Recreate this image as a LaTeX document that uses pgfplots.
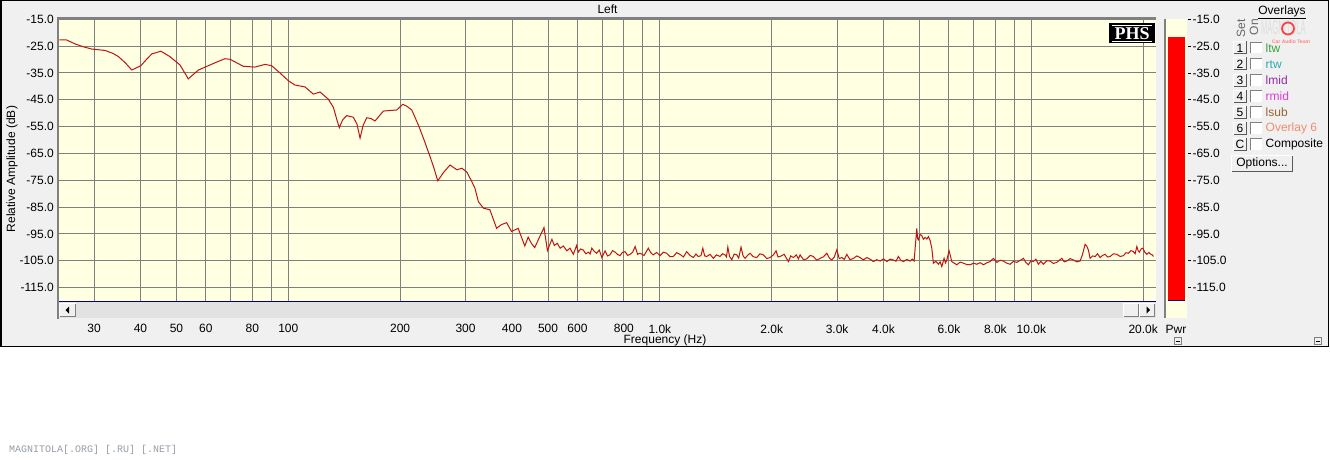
\documentclass[border=0pt]{standalone}
\usepackage{pgfplots}
\usepackage{pgfplotstable}
\pgfplotsset{compat=1.18}
\usepackage{fontspec}
\setmainfont{Liberation Sans}
\newfontfamily\monofont{Liberation Mono}
\newfontfamily\seriffont{Liberation Serif}
\definecolor{panel}{RGB}{240,240,240}
\definecolor{plotbg}{RGB}{255,255,225}
\definecolor{gridc}{RGB}{128,128,128}
\definecolor{trace}{RGB}{190,20,20}
\definecolor{navyline}{RGB}{0,0,128}
\definecolor{scrollc}{RGB}{226,226,226}
\definecolor{cltw}{RGB}{60,160,60}
\definecolor{crtw}{RGB}{40,170,170}
\definecolor{clmid}{RGB}{150,40,170}
\definecolor{crmid}{RGB}{220,60,220}
\definecolor{clsub}{RGB}{150,100,50}
\definecolor{cov}{RGB}{240,140,110}
\definecolor{wmark}{RGB}{150,158,168}

\pgfplotstableread{
f db
24.2 -22.7
25.3 -22.7
26.7 -24.2
28.0 -25.2
29.6 -26.1
32.1 -26.6
33.6 -27.6
34.9 -28.9
36.4 -31.2
37.9 -33.9
40.1 -32.3
41.5 -30.0
42.9 -27.9
45.4 -26.9
48.0 -28.9
51.1 -32.0
53.8 -37.2
57.3 -33.9
60.9 -32.3
64.0 -31.0
67.5 -29.7
69.7 -29.9
75.6 -32.5
81.3 -32.8
86.6 -31.8
90.2 -32.3
95.0 -35.0
100 -37.9
104.2 -39.5
110.9 -40.2
116.8 -42.9
121.7 -42.1
128.2 -44.8
132.2 -47.8
135.5 -53.0
137.2 -55.4
140.0 -52.5
143.6 -50.9
149.6 -51.5
153.0 -54.0
156.0 -59.3
159.0 -54.5
162.6 -51.7
167.0 -52.0
171.2 -52.9
180.2 -49.2
195.8 -48.8
203.2 -46.7
208.0 -47.3
214.9 -48.8
223.9 -54.4
232.0 -60.0
240.7 -66.2
246.0 -70.0
252.5 -75.2
262.0 -72.0
272.4 -69.3
284.3 -71.1
293.3 -70.5
302.5 -72.0
311.8 -75.5
318.0 -78.0
324.8 -83.0
335.1 -85.4
348.8 -86.0
363.6 -92.9
375.0 -91.5
387.0 -90.8
398.8 -94.1
415.5 -92.9
433.0 -99.5
442.1 -96.2
451.0 -98.5
460.5 -100.1
473.2 -96.5
487.7 -92.6
498.1 -101.2
512.3 -97.0
520.0 -99.3
529.5 -98.5
539.0 -100.3
550.0 -99.5
562 -101.3
573 -100.3
585 -102.6
597 -99.3
603 -101.8
612 -100.6
622 -101.0
632 -102.4
642 -101.8
649 -102.5
656 -100.3
666 -101.5
676 -102.2
687 -101.0
698 -103.8
705 -102.6
712 -101.3
723 -103.2
734 -102.8
746 -101.2
758 -101.8
769 -102.6
781 -103.1
793 -101.9
806 -101.6
819 -103.0
832 -102.6
845 -101.8
858 -99.7
871 -102.6
884 -102.2
907 -103.0
931 -100.3
945 -102.0
960 -102.8
980 -101.9
1001 -103.1
1022 -101.8
1044 -102.2
1065 -103.5
1087 -103.4
1110 -102.0
1133 -102.6
1157 -103.6
1181 -101.6
1205 -103.0
1231 -103.8
1250 -102.5
1270 -103.4
1290 -103.1
1305 -100.3
1320 -103.2
1337 -103.4
1365 -102.6
1393 -104.1
1420 -102.8
1452 -103.4
1475 -102.4
1498 -102.8
1511 -103.6
1524 -99.9
1540 -103.4
1562 -104.6
1585 -102.5
1611 -102.8
1630 -104.0
1654 -99.9
1675 -103.2
1696 -104.1
1722 -103.0
1749 -102.2
1785 -103.5
1823 -103.8
1860 -102.4
1899 -102.8
1940 -104.2
1980 -103.8
2018 -102.9
2055 -101.3
2080 -103.6
2107 -103.4
2160 -102.6
2218 -105.3
2250 -103.2
2288 -103.8
2330 -102.8
2360 -104.3
2385 -102.8
2435 -104.6
2486 -104.3
2540 -103.0
2590 -103.4
2645 -104.8
2700 -104.1
2757 -103.5
2814 -102.2
2860 -104.0
2902 -104.7
2948 -103.6
2994 -100.9
3040 -104.2
3088 -103.8
3136 -104.5
3185 -102.6
3250 -104.6
3319 -104.1
3390 -103.2
3459 -103.8
3530 -104.7
3606 -103.8
3680 -104.4
3756 -105.3
3835 -104.6
3915 -105.1
4000 -104.3
4082 -105.3
4165 -104.4
4252 -104.7
4320 -105.2
4385 -103.4
4455 -104.9
4524 -105.3
4620 -104.5
4715 -105.1
4780 -104.4
4834 -105.1
4873 -99.1
4915 -92.9
4940 -96.8
4964 -97.2
5015 -95.2
5070 -95.6
5120 -97.0
5174 -96.3
5230 -96.9
5281 -96.0
5340 -97.5
5394 -100.3
5448 -105.9
5530 -105.2
5619 -106.3
5680 -105.4
5738 -107.2
5821 -104.1
5870 -105.8
5920 -104.7
6005 -101.3
6106 -105.3
6200 -105.9
6299 -106.5
6430 -105.5
6561 -105.9
6700 -106.4
6839 -106.5
6980 -105.9
7129 -106.3
7280 -105.7
7428 -106.5
7580 -105.8
7742 -105.3
7902 -104.1
8071 -105.6
8240 -104.8
8408 -105.1
8580 -105.9
8763 -106.3
8950 -105.2
9134 -105.6
9320 -104.9
9517 -104.1
9660 -105.6
9815 -106.5
9970 -105.0
10125 -105.3
10280 -104.4
10443 -106.3
10600 -105.2
10772 -106.3
11000 -105.0
11227 -105.1
11460 -106.0
11705 -105.6
11890 -104.8
12072 -104.1
12260 -105.4
12452 -105.1
12710 -104.2
12974 -104.7
13240 -105.4
13523 -105.1
13717 -102.8
13947 -98.9
14100 -99.6
14236 -101.0
14388 -104.1
14610 -103.2
14842 -103.4
15070 -102.4
15308 -103.8
15550 -103.0
15792 -102.6
16040 -103.6
16287 -103.4
16630 -102.4
16982 -102.6
17330 -103.4
17689 -103.1
17970 -102.0
18247 -102.2
18530 -101.2
18823 -101.6
19020 -102.4
19222 -99.7
19380 -101.2
19534 -101.8
19740 -100.6
19948 -100.3
20200 -101.8
20450 -102.6
20700 -101.9
20965 -102.6
21150 -102.8
21304 -103.4
}\tracedata

\begin{document}
\begin{tikzpicture}[font=\fontsize{12}{14}\selectfont]
\useasboundingbox (0pt,0pt) rectangle (1330pt,-460pt);
\begin{scope}[x=1pt,y=-1pt]
  \fill[white] (0,0) rectangle (1330,460);
  \fill[panel] (0,0) rectangle (1329,347);
  \draw[black, line width=1.5pt] (0.75,0.75) rectangle (1328.5,346.5);
  % scroll bar
  \fill[scrollc] (59.3,301.5) rectangle (1156,318);
  % power bar background
  \fill[plotbg] (1164,19) rectangle (1187,318);
\end{scope}

\begin{axis}[
  at={(59.3pt,-301pt)}, anchor=south west,
  scale only axis, width=1096.7pt, height=281.7pt,
  xmode=log, log basis x=10,
  xmin=24.19, xmax=21650, ymin=-120, ymax=-15,
  axis background/.style={fill=plotbg},
  axis line style={draw=none},
  grid=major, major grid style={gridc, line width=1pt},
  minor xtick={}, minor ytick={},
  xtick={30,40,50,60,70,80,90,100,200,300,400,500,600,700,800,900,1000,2000,3000,4000,5000,6000,7000,8000,9000,10000,20000},
  xticklabels={30,40,50,60,,80,,100,200,300,400,500,600,,800,,1.0k,2.0k,3.0k,4.0k,,6.0k,,8.0k,,10.0k,20.0k},
  ytick={-115,-105,-95,-85,-75,-65,-55,-45,-35,-25,-15},
  yticklabels={-115.0,-105.0,-95.0,-85.0,-75.0,-65.0,-55.0,-45.0,-35.0,-25.0,-15.0},
  major tick length=0pt,
  xticklabel style={yshift=-20pt},
  yticklabel style={xshift=-2pt},
  clip=false,
]
\addplot[trace, line width=1pt] table[x=f,y=db]{\tracedata};
\pgfplotsinvokeforeach{30,40,50,60,70,80,90,100,200,300,400,500,600,700,800,900,1000,2000,3000,4000,5000,6000,7000,8000,9000,10000,20000}{
  \draw[black!70, line width=0.8pt] (axis cs:#1,-120) ++(0,-17.5pt) -- ++(0,-2.5pt);
}
\end{axis}

\begin{axis}[
  at={(1164pt,-301pt)}, anchor=south west,
  scale only axis, width=24pt, height=281.7pt,
  xmin=0, xmax=1, ymin=-120, ymax=-15,
  axis x line=none, axis y line*=right,
  axis line style={draw=none},
  ytick={-115,-105,-95,-85,-75,-65,-55,-45,-35,-25,-15},
  yticklabels={-115.0,-105.0,-95.0,-85.0,-75.0,-65.0,-55.0,-45.0,-35.0,-25.0,-15.0},
  tick align=outside, major tick length=3pt,
  ytick style={black, line width=0.8pt},
  yticklabel style={xshift=-2pt},
  clip=false,
]
\addplot[fill=red, draw=none] coordinates {(0.154,-120) (0.154,-21.5) (0.875,-21.5) (0.875,-120)} -- cycle;
\end{axis}

\begin{scope}[x=1pt,y=-1pt]
  % plot borders
  \draw[gridc, line width=2pt] (58.3,18.3) -- (1156,18.3);
  \draw[gridc, line width=2pt] (58.3,17.3) -- (58.3,319);
  \draw[navyline, line width=1pt] (59.3,301) -- (1156,301);
  % scroll buttons
  \fill[panel] (59.3,303) rectangle (76,317);
  \draw[white, line width=1pt] (59.8,317) -- (59.8,303.5) -- (76,303.5);
  \draw[gray, line width=1pt] (59.8,316.5) -- (75.5,316.5) -- (75.5,303.5);
  \fill[black] (65.5,310) -- (69,306.5) -- (69,313.5) -- cycle;
  \fill[panel] (1123,303) rectangle (1139,317);
  \draw[white, line width=1pt] (1123.5,317) -- (1123.5,303.5) -- (1139,303.5);
  \draw[gray, line width=1pt] (1123.5,316.5) -- (1138.5,316.5) -- (1138.5,303.5);
  \fill[panel] (1139,303) rectangle (1155,317);
  \draw[white, line width=1pt] (1139.5,317) -- (1139.5,303.5) -- (1155,303.5);
  \draw[gray, line width=1pt] (1139.5,316.5) -- (1154.5,316.5) -- (1154.5,303.5);
  \fill[black] (1150,310) -- (1146.5,306.5) -- (1146.5,313.5) -- cycle;
  % power bar frame
  \draw[gridc, line width=2pt] (1165,19) -- (1165,318);
  \draw[navyline, line width=1pt] (1167.7,300.5) -- (1185,300.5);
  % titles
  \node at (607.5,9) {Left};
  \node[rotate=90] at (12,169) {Relative Amplitude (dB)};
  \node at (665,340.5) {Frequency (Hz)};
  \node at (1176,329) {Pwr};
  % PHS logo
  \fill[black] (1109,23) rectangle (1155,43.5);
  \draw[white, line width=0.8pt] (1112,25.3) -- (1152,25.3);
  \draw[white, line width=0.8pt] (1112,41.3) -- (1152,41.3);
  \node[white, font=\seriffont\bfseries\fontsize{18}{18}\selectfont, inner sep=0pt] at (1132,33.5) {PHS};
  % small buttons
  \foreach \bx in {1178,1318}{
    \fill[panel] (\bx-3.5,337) rectangle (\bx+3.5,344);
    \draw[gray, line width=0.6pt] (\bx-3.5,337) rectangle (\bx+3.5,344);
    \draw[black, line width=0.8pt] (\bx-1.8,341) -- (\bx+1.8,341);
  }
  % overlays panel watermark
  \node[anchor=west, text=black!13, font=\fontsize{20}{20}\selectfont, xscale=0.38, inner sep=0pt] at (1261,28) {MAGNITOLA};
  \draw[red!75, line width=1.8pt] (1288,28.5) circle (6);
  \node[text=red!50, font=\bfseries\fontsize{5}{5}\selectfont, inner sep=0pt] at (1291,42) {Car Audio Team};
  \node[font=\fontsize{12}{14}\selectfont] at (1282,12) {\underline{Overlays}};
  \node[rotate=90, text=black!60, inner sep=0pt] at (1241,28.5) {Set};
  \node[rotate=90, text=black!60, inner sep=0pt] at (1254,27) {On};
  \foreach \yy/\lab/\txt/\col in {48/1/ltw/cltw, 64/2/rtw/crtw, 80/3/lmid/clmid, 96/4/rmid/crmid, 112/5/lsub/clsub, 128/6/Overlay 6/cov, 144/C/Composite/black}{
    \fill[panel] (1233,\yy-6.5) rectangle (1246.5,\yy+6.5);
    \draw[white, line width=1pt] (1233.5,\yy+6.5) -- (1233.5,\yy-6) -- (1246.5,\yy-6);
    \draw[black!65, line width=1pt] (1233.5,\yy+6) -- (1246,\yy+6) -- (1246,\yy-6.5);
    \node[inner sep=0pt] at (1240,\yy) {\lab};
    \fill[white] (1250.7,\yy-5.5) rectangle (1261.7,\yy+5.5);
    \draw[gray, line width=0.8pt] (1250.7,\yy+5.5) -- (1250.7,\yy-5.5) -- (1261.7,\yy-5.5);
    \node[anchor=west, text=\col, inner sep=0pt] at (1265.5,\yy+0.5) {\txt};
  }
  \fill[panel] (1231,155) rectangle (1293,172);
  \draw[white, line width=1pt] (1231.5,172) -- (1231.5,155.5) -- (1293,155.5);
  \draw[black!65, line width=1pt] (1231.5,171.5) -- (1292.5,171.5) -- (1292.5,155.5);
  \node at (1262,163.5) {Options...};
  % bottom watermark
  \node[anchor=west, text=wmark, font=\monofont\fontsize{10}{10}\selectfont, inner sep=0pt] at (9,450) {MAGNITOLA[.ORG] [.RU] [.NET]};
\end{scope}
\end{tikzpicture}
\end{document}
